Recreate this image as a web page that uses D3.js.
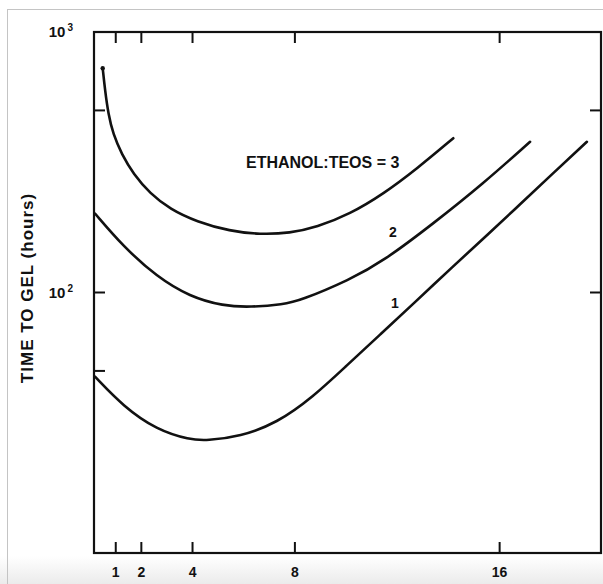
<!DOCTYPE html>
<meta charset="utf-8">
<style>
body { margin: 0; background: #fff; }
text { font-family: "Liberation Sans", Arial, sans-serif; font-weight: bold; fill: #111; }
.frame { fill: none; stroke: #111; stroke-width: 2.2px; }
.tick { stroke: #111; stroke-width: 2px; }
.curve { fill: none; stroke: #111; stroke-width: 2.6px; stroke-linecap: round; }
</style>
<body>
<script src="https://cdn.jsdelivr.net/npm/d3@7"></script>
<script>

var width = 603,
    height = 584;

// x ticks (bottom and top) and y decade labels
var xTicks = [1, 2, 4, 8, 16];
var yTicksLeft = [500, 100, 50];
var yTicksRight = [500, 100];
var yLabels = [{v: 1000, p: "3"}, {v: 100, p: "2"}];

// ETHANOL:TEOS = 3
var r3X = [0.49, 0.58, 0.71, 0.90, 1.23, 1.69, 2.34, 3.12, 4.16, 5.46, 6.64, 7.81, 8.85, 10.15, 11.46, 12.76, 14.19];
var r3Y = [726, 599, 484, 405, 340, 285, 240, 209, 187, 172, 167, 169, 178, 200, 239, 298, 391];
// ratio 2
var r2X = [0.19, 1.30, 2.60, 3.90, 5.20, 6.25, 7.55, 8.20, 10.15, 11.46, 13.41, 15.36, 17.19];
var r2Y = [201, 150, 115, 96.3, 88.8, 87.8, 90, 93, 112, 132, 184, 262, 379];
// ratio 1
var r1X = [0.19, 1.30, 2.60, 3.90, 4.55, 5.86, 7.29, 8.72, 10.02, 11.33, 12.63, 14.18, 15.51, 16.80, 18.09, 19.41];
var r1Y = [47.5, 36.5, 29.7, 27.2, 27.0, 28.0, 31.5, 39.8, 52.4, 68.9, 90.6, 126, 166, 218, 287, 379];

var x = d3.scaleLinear().domain([0.15, 20]).range([94, 602]);
var y = d3.scaleLog().domain([10, 1000]).range([553, 32]);

var svg = d3.select("body").append("svg")
    .attr("width", width)
    .attr("height", height);

// screenshot-ish backdrop: faint grey bottom and a thin outer border
var grad = svg.append("defs").append("linearGradient")
    .attr("id", "fade").attr("x1", 0).attr("y1", 0).attr("x2", 0).attr("y2", 1);
grad.append("stop").attr("offset", "0%").attr("stop-color", "#fff");
grad.append("stop").attr("offset", "100%").attr("stop-color", "#ebebeb");
svg.append("rect")
    .attr("x", 0).attr("y", 556).attr("width", width).attr("height", height - 556)
    .attr("fill", "url(#fade)");
svg.append("rect")
    .attr("x", 7.5).attr("y", 9.5).attr("width", 700).attr("height", 700)
    .attr("fill", "none").attr("stroke", "#c4c4c4").attr("stroke-width", 1);

// frame
svg.append("rect")
    .attr("class", "frame")
    .attr("x", x.range()[0]).attr("y", y.range()[1])
    .attr("width", x.range()[1] - x.range()[0] - 1)
    .attr("height", y.range()[0] - y.range()[1]);

// ticks, drawn inward on all sides
var tickLen = 11;
svg.selectAll(".xb").data(xTicks).enter().append("line")
    .attr("class", "tick")
    .attr("x1", d => x(d)).attr("x2", d => x(d))
    .attr("y1", y.range()[0]).attr("y2", y.range()[0] - tickLen);
svg.selectAll(".xt").data(xTicks).enter().append("line")
    .attr("class", "tick")
    .attr("x1", d => x(d)).attr("x2", d => x(d))
    .attr("y1", y.range()[1]).attr("y2", y.range()[1] + tickLen);
svg.selectAll(".yl").data(yTicksLeft).enter().append("line")
    .attr("class", "tick")
    .attr("x1", x.range()[0]).attr("x2", x.range()[0] + tickLen)
    .attr("y1", d => y(d)).attr("y2", d => y(d));
svg.selectAll(".yr").data(yTicksRight).enter().append("line")
    .attr("class", "tick")
    .attr("x1", x.range()[1] - 1).attr("x2", x.range()[1] - 1 - tickLen)
    .attr("y1", d => y(d)).attr("y2", d => y(d));

// tick labels
svg.selectAll(".xlab").data(xTicks).enter().append("text")
    .attr("x", d => x(d))
    .attr("y", 577)
    .attr("text-anchor", "middle")
    .style("font-size", "14px")
    .text(d => d);

var yl = svg.selectAll(".ylab").data(yLabels).enter().append("text")
    .attr("x", 73)
    .attr("y", d => y(d.v) + 5)
    .attr("text-anchor", "end")
    .style("font-size", "15px");
yl.append("tspan").text("10");
yl.append("tspan").attr("dx", 2).attr("dy", -6).style("font-size", "10px").text(d => d.p);

// axis title
svg.append("text")
    .attr("transform", "translate(33,288) rotate(-90)")
    .attr("text-anchor", "middle")
    .style("font-size", "17px")
    .style("letter-spacing", "1px")
    .text("TIME TO GEL (hours)");

// curves
var line = d3.line()
    .x(d => x(d[0]))
    .y(d => y(d[1]))
    .curve(d3.curveBasis);

var series = [d3.zip(r3X, r3Y), d3.zip(r2X, r2Y), d3.zip(r1X, r1Y)];
svg.selectAll(".curve").data(series).enter().append("path")
    .attr("class", "curve")
    .attr("d", line);

// start dot on the top curve
svg.append("circle")
    .attr("cx", x(r3X[0])).attr("cy", y(r3Y[0]))
    .attr("r", 2.2).attr("fill", "#111");

// curve labels
svg.append("text")
    .attr("x", 246).attr("y", 168)
    .style("font-size", "16px")
    .text("ETHANOL:TEOS = 3");
svg.append("text")
    .attr("x", 393).attr("y", 237)
    .attr("text-anchor", "middle")
    .style("font-size", "14px")
    .text("2");
svg.append("text")
    .attr("x", 395).attr("y", 308)
    .attr("text-anchor", "middle")
    .style("font-size", "14px")
    .text("1");

</script>
